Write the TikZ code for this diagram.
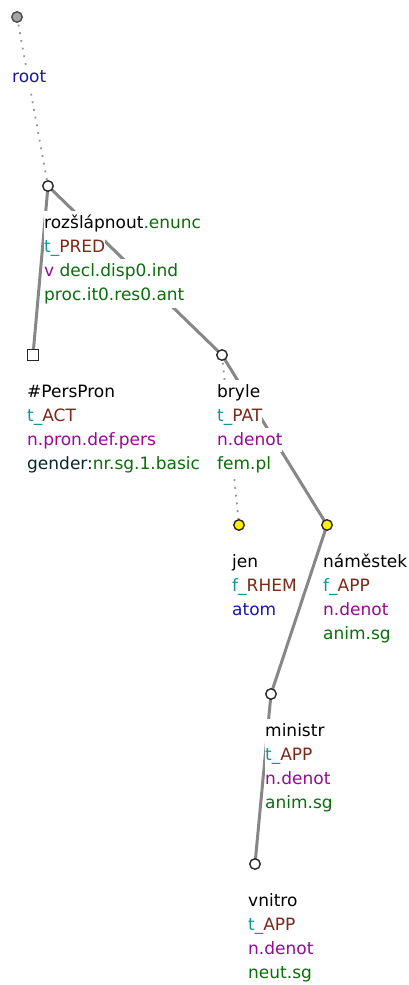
\documentclass[tikz,border=0pt]{standalone}
\usepackage{fontspec}
\newfontfamily\dv{DejaVu Sans}
\definecolor{cteal}{RGB}{20,150,150}
\definecolor{cbrown}{RGB}{125,40,25}
\definecolor{cmag}{RGB}{150,10,150}
\definecolor{cgreen}{RGB}{10,110,10}
\definecolor{cblue}{RGB}{25,25,160}
\definecolor{cdark}{RGB}{5,40,40}
\definecolor{cedge}{RGB}{135,135,135}
\definecolor{croot}{RGB}{165,165,165}
\definecolor{cyel}{RGB}{255,240,0}
\pgfdeclarelayer{bg}
\pgfsetlayers{bg,main}
\newcommand{\tg}[1]{\textcolor{cteal}{#1}}
\newcommand{\tb}[1]{\textcolor{cbrown}{#1}}
\newcommand{\tm}[1]{\textcolor{cmag}{#1}}
\newcommand{\tgr}[1]{\textcolor{cgreen}{#1}}
\newcommand{\tbl}[1]{\textcolor{cblue}{#1}}
\newcommand{\tdk}[1]{\textcolor{cdark}{#1}}
\tikzset{
  x=1pt, y=-1pt,
  tnode/.style={circle, draw=black!85, line width=1.4pt, fill=white, minimum size=10.5pt, inner sep=0pt},
  rootnode/.style={tnode, draw=black!70, fill=croot},
  yelnode/.style={tnode, fill=cyel},
  sqnode/.style={rectangle, draw=black!85, line width=1.3pt, fill=white, minimum size=10.5pt, inner sep=0pt},
  lbl/.style={anchor=base west, inner xsep=0pt, inner ysep=0pt, fill=white, text height=17.5pt, text depth=6.8pt, font=\dv\fontsize{17}{24.3}\selectfont},
  edge/.style={draw=cedge, line width=3pt},
  dotedge/.style={draw=cedge!90, line width=1.8pt, dash pattern=on 1.8pt off 6pt},
}
\begin{document}
\begin{tikzpicture}
\useasboundingbox (0,0) rectangle (409,985);
% nodes
\node[rootnode] (root) at (17,17) {};
\node[tnode] (rozs) at (48,186) {};
\node[sqnode] (pers) at (33,355) {};
\node[tnode] (bryle) at (222,355) {};
\node[yelnode] (jen) at (239,525) {};
\node[yelnode] (nam) at (327,525) {};
\node[tnode] (min) at (271,694) {};
\node[tnode] (vni) at (255,864) {};
% edges
\begin{pgfonlayer}{bg}
\draw[dotedge] (root.center) -- (rozs.center);
\draw[edge] (rozs.center) -- (pers.center);
\draw[edge] (rozs.center) -- (bryle.center);
\draw[dotedge] (bryle.center) -- (jen.center);
\draw[edge] (bryle.center) -- (nam.center);
\draw[edge] (nam.center) -- (min.center);
\draw[edge] (min.center) -- (vni.center);
\end{pgfonlayer}
% labels
\node[lbl] (root1) at (12,82) {\tbl{root}};
\node[lbl] (rozs1) at (44,228) {rozšlápnout\tgr{.enunc}};
\node[lbl] (rozs2) at (44,252.3) {\tg{t\_}\tb{PRED}};
\node[lbl] (rozs3) at (44,276.6) {\tm{v}\ \tgr{decl.disp0.ind}};
\node[lbl] (rozs4) at (44,300.9) {\tgr{proc.it0.res0.ant}};
\node[lbl] (pers1) at (27,397) {\#PersPron};
\node[lbl] (pers2) at (27,421.3) {\tg{t\_}\tb{ACT}};
\node[lbl] (pers3) at (27,445.6) {\tm{n.pron.def.pers}};
\node[lbl] (pers4) at (27,469.9) {\tdk{gender:}\tgr{nr.sg.1.basic}};
\node[lbl] (bryle1) at (217,397) {bryle};
\node[lbl] (bryle2) at (217,421.3) {\tg{t\_}\tb{PAT}};
\node[lbl] (bryle3) at (217,445.6) {\tm{n.denot}};
\node[lbl] (bryle4) at (217,469.9) {\tgr{fem.pl}};
\node[lbl] (jen1) at (232,567) {jen};
\node[lbl] (jen2) at (232,591.3) {\tg{f\_}\tb{RHEM}};
\node[lbl] (jen3) at (232,615.6) {\tbl{atom}};
\node[lbl] (nam1) at (323,567) {náměstek};
\node[lbl] (nam2) at (323,591.3) {\tg{f\_}\tb{APP}};
\node[lbl] (nam3) at (323,615.6) {\tm{n.denot}};
\node[lbl] (nam4) at (323,639.9) {\tgr{anim.sg}};
\node[lbl] (min1) at (265,736) {ministr};
\node[lbl] (min2) at (265,760.3) {\tg{t\_}\tb{APP}};
\node[lbl] (min3) at (265,784.6) {\tm{n.denot}};
\node[lbl] (min4) at (265,808.9) {\tgr{anim.sg}};
\node[lbl] (vni1) at (248,906) {vnitro};
\node[lbl] (vni2) at (248,930.3) {\tg{t\_}\tb{APP}};
\node[lbl] (vni3) at (248,954.6) {\tm{n.denot}};
\node[lbl] (vni4) at (248,978.9) {\tgr{neut.sg}};
\end{tikzpicture}
\end{document}
